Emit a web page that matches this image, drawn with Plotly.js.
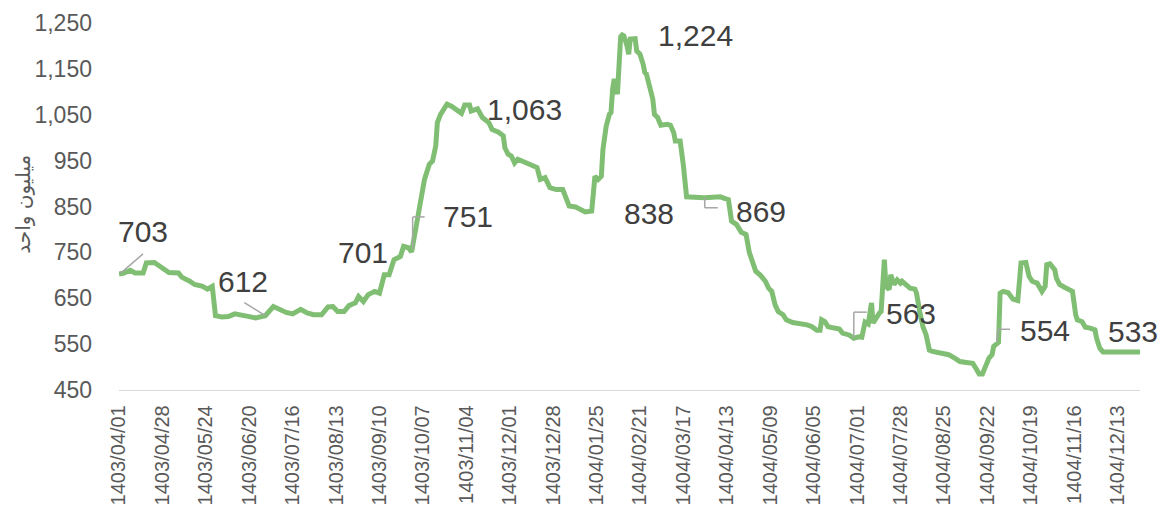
<!DOCTYPE html>
<html>
<head>
<meta charset="utf-8">
<script src="https://cdn.plot.ly/plotly-3.0.1.min.js"></script>
<style>
html,body{margin:0;padding:0;background:#ffffff;}
#chart{width:1166px;height:507px;}
</style>
</head>
<body>
<div id="chart"></div>
<script>
// ---- DATA (Solar Hijri dates, values in million units) ----
const dates = [
"1403/04/01","1403/04/04","1403/04/08","1403/04/11","1403/04/16","1403/04/18","1403/04/23","1403/04/26","1403/04/29",
"1403/05/01","1403/05/07","1403/05/09","1403/05/14","1403/05/17","1403/05/22","1403/05/25","1403/05/28","1403/05/30",
"1403/06/03","1403/06/07","1403/06/11","1403/06/16","1403/06/20","1403/06/24","1403/06/30",
"1403/07/04","1403/07/08","1403/07/12","1403/07/16","1403/07/21","1403/07/25","1403/07/29",
"1403/08/04","1403/08/08","1403/08/11","1403/08/14","1403/08/18","1403/08/21","1403/08/25","1403/08/27","1403/08/30",
"1403/09/03","1403/09/07","1403/09/10","1403/09/13","1403/09/16","1403/09/19","1403/09/23","1403/09/25","1403/09/28","1403/09/30",
"1403/10/05","1403/10/08","1403/10/11","1403/10/13","1403/10/15","1403/10/16","1403/10/18","1403/10/22","1403/10/25","1403/10/28",
"1403/11/01","1403/11/03","1403/11/06","1403/11/07","1403/11/11","1403/11/14","1403/11/18","1403/11/20","1403/11/24","1403/11/27","1403/11/28","1403/11/30",
"1403/12/02","1403/12/04","1403/12/06","1403/12/10","1403/12/14","1403/12/18","1403/12/20","1403/12/23","1403/12/26","1403/12/30",
"1404/01/04","1404/01/06","1404/01/08","1404/01/12","1404/01/16","1404/01/18","1404/01/22","1404/01/23","1404/01/24","1404/01/26","1404/01/28","1404/01/29","1404/01/31",
"1404/02/02","1404/02/03","1404/02/04","1404/02/05","1404/02/07","1404/02/08","1404/02/09","1404/02/10","1404/02/11","1404/02/13","1404/02/14","1404/02/15","1404/02/18","1404/02/19","1404/02/21","1404/02/23","1404/02/24","1404/02/25","1404/02/27","1404/02/29","1404/02/30",
"1404/03/01","1404/03/03","1404/03/07","1404/03/09","1404/03/11","1404/03/12","1404/03/15","1404/03/17","1404/03/19","1404/03/30",
"1404/04/09","1404/04/12","1404/04/14","1404/04/16","1404/04/19","1404/04/22","1404/04/25","1404/04/27","1404/04/29","1404/04/31",
"1404/05/03","1404/05/06","1404/05/08","1404/05/10","1404/05/12","1404/05/14","1404/05/17","1404/05/19","1404/05/23","1404/05/29",
"1404/06/01","1404/06/04","1404/06/07","1404/06/09","1404/06/10","1404/06/12","1404/06/14","1404/06/18","1404/06/21","1404/06/23","1404/06/27","1404/06/30",
"1404/07/02","1404/07/04","1404/07/06","1404/07/08","1404/07/09","1404/07/10","1404/07/11","1404/07/13","1404/07/15","1404/07/16","1404/07/18","1404/07/19","1404/07/21","1404/07/22","1404/07/24","1404/07/26","1404/07/28","1404/07/29",
"1404/08/01","1404/08/04","1404/08/07","1404/08/08","1404/08/10","1404/08/12","1404/08/14","1404/08/16","1404/08/18","1404/08/24","1404/08/28",
"1404/09/02","1404/09/05","1404/09/09","1404/09/13","1404/09/15","1404/09/17","1404/09/19","1404/09/21","1404/09/23","1404/09/25","1404/09/26","1404/09/29","1404/09/30",
"1404/10/02","1404/10/05","1404/10/08","1404/10/11","1404/10/13","1404/10/16","1404/10/18","1404/10/20","1404/10/23","1404/10/26","1404/10/28","1404/10/29",
"1404/11/01","1404/11/04","1404/11/05","1404/11/07","1404/11/10","1404/11/14","1404/11/15","1404/11/17","1404/11/18","1404/11/21","1404/11/23","1404/11/26","1404/11/29","1404/11/30",
"1404/12/02","1404/12/04","1404/12/27"
];
const values = [
703,705,711,705,705,727,728,721,716,
706,705,696,687,680,676,670,676,612,
609,610,616,614,610,607,612,
632,625,619,616,626,618,614,
614,631,632,621,621,634,640,654,643,
658,665,661,701,701,734,741,763,760,751,
854,909,942,949,982,1033,1051,1073,1068,1062,
1053,1071,1071,1058,1063,1044,1033,1018,1012,1004,978,964,
960,945,953,947,940,935,909,913,891,887,
887,872,851,849,840,838,840,894,916,909,916,975,1025,
1051,1055,1106,1128,1095,1142,1220,1224,1222,1200,1182,1215,1216,1189,1182,1160,1142,1139,1106,1084,1051,
1044,1027,1029,1027,1011,993,993,940,871,869,
871,867,865,818,811,794,789,750,727,709,
700,687,672,665,636,621,614,603,597,594,
592,588,580,580,603,599,588,585,583,574,570,563,
566,565,598,594,618,640,596,610,618,621,734,676,669,701,680,690,683,687,
680,672,670,661,621,588,570,537,534,530,527,
519,512,510,508,497,485,485,500,519,527,545,554,661,
665,662,648,645,727,728,698,687,683,665,676,723,
725,712,694,680,674,665,665,614,603,599,587,585,581,563,
541,533,533
];
const tickLabels = [
"1403/04/01","1403/04/28","1403/05/24","1403/06/20","1403/07/16","1403/08/13","1403/09/10","1403/10/07",
"1403/11/04","1403/12/01","1403/12/28","1404/01/25","1404/02/21","1404/03/17","1404/04/13","1404/05/09",
"1404/06/05","1404/07/01","1404/07/28","1404/08/25","1404/09/22","1404/10/19","1404/11/16","1404/12/13"
];
const yTickValues = [450,550,650,750,850,950,1050,1150,1250];
const labelledDates = ["1403/04/01","1403/06/30","1403/09/13","1403/09/30","1403/11/11","1404/02/10","1404/01/18","1404/03/30","1404/06/30","1404/09/29","1404/12/27"];
const yTitle = "میلیون واحد";

// ---- STYLE: label offsets (pixels) and leader lines (pixel offsets from the point) ----
const labelShift = [[24,42],[-22,34],[-21,22],[56,35],[47,-1],[73,-1],[64,-1],[57,-14],[57,25],[46,12],[-7,20]];
const leaders = [
  [[2,1,24,20]],
  [[0,0,-21,13]],
  [],
  [[1,3,1,35],[1,35,13,35]],
  [],
  [],
  [],
  [[0.5,0,0.5,-10],[0.5,-10,13.5,-10]],
  [[0,0,0,26],[0,26,13,26]],
  [[-1.5,0,-0.5,13],[-0.5,13,11.5,13]],
  []
];

// ---- Solar Hijri date -> day offset from 1403/04/01 ----
function monthLen(y,m){ return m<=6 ? 31 : (m<=11 ? 30 : (y===1403 ? 30 : 29)); }
function dayIndex(s){
  const p = s.split('/').map(Number);
  let n = 0, yy = 1403, mm = 4;
  while (yy < p[0] || (yy === p[0] && mm < p[1])) {
    n += monthLen(yy,mm); mm++; if (mm > 12) { mm = 1; yy++; }
  }
  return n + p[2] - 1;
}
const xs = dates.map(dayIndex);
const tickVals = tickLabels.map(dayIndex);
const fmt = v => v.toLocaleString('en-US');

const FONT = 'Liberation Sans, Arial, sans-serif';
const GREEN = '#80bf73';

const annotations = [];
const shapes = [];
labelledDates.forEach((d,i) => {
  const k = dates.indexOf(d);
  const x = xs[k], y = values[k];
  annotations.push({
    x: x, y: y, xref:'x', yref:'y', text: fmt(y), showarrow:false,
    xanchor:'center', yanchor:'middle', xshift: labelShift[i][0], yshift: labelShift[i][1],
    font:{family:FONT, size:30, color:'#404040'}
  });
  leaders[i].forEach(s => {
    shapes.push({type:'line', xref:'x', yref:'y', xsizemode:'pixel', ysizemode:'pixel',
      xanchor:x, yanchor:y, x0:s[0], y0:s[1], x1:s[2], y1:s[3],
      line:{color:'#a6a6a6', width:1.5}, layer:'above'});
  });
});
annotations.push({
  xref:'paper', yref:'paper', x:-0.094, y:0.505, text:yTitle, textangle:-90, showarrow:false,
  xanchor:'center', yanchor:'middle', font:{family:'DejaVu Sans, sans-serif', size:20, color:'#595959'}
});

const trace = {
  x: xs, y: values, type:'scatter', mode:'lines',
  line:{color:GREEN, width:5, shape:'linear'},
  cliponaxis:false, hoverinfo:'skip'
};

const layout = {
  width:1166, height:507,
  margin:{l:119, r:26, t:23, b:117, pad:0},
  paper_bgcolor:'#ffffff', plot_bgcolor:'#ffffff',
  showlegend:false,
  font:{family:FONT, color:'#595959'},
  xaxis:{
    range:[0,635], tickvals:tickVals, ticktext:tickLabels, tickangle:-90,
    showline:true, linecolor:'#d9d9d9', linewidth:1.3, showgrid:false, zeroline:false,
    ticks:'', ticklabelstandoff:6, tickfont:{family:FONT, size:20, color:'#595959'}
  },
  yaxis:{
    range:[450,1250], tickvals:yTickValues, tickformat:',', showline:false, showgrid:false, zeroline:false,
    ticks:'', ticklabelstandoff:26, tickfont:{family:FONT, size:23, color:'#595959'}
  },
  annotations: annotations,
  shapes: shapes
};

Plotly.newPlot('chart', [trace], layout, {displayModeBar:false, staticPlot:true});
</script>
</body>
</html>
